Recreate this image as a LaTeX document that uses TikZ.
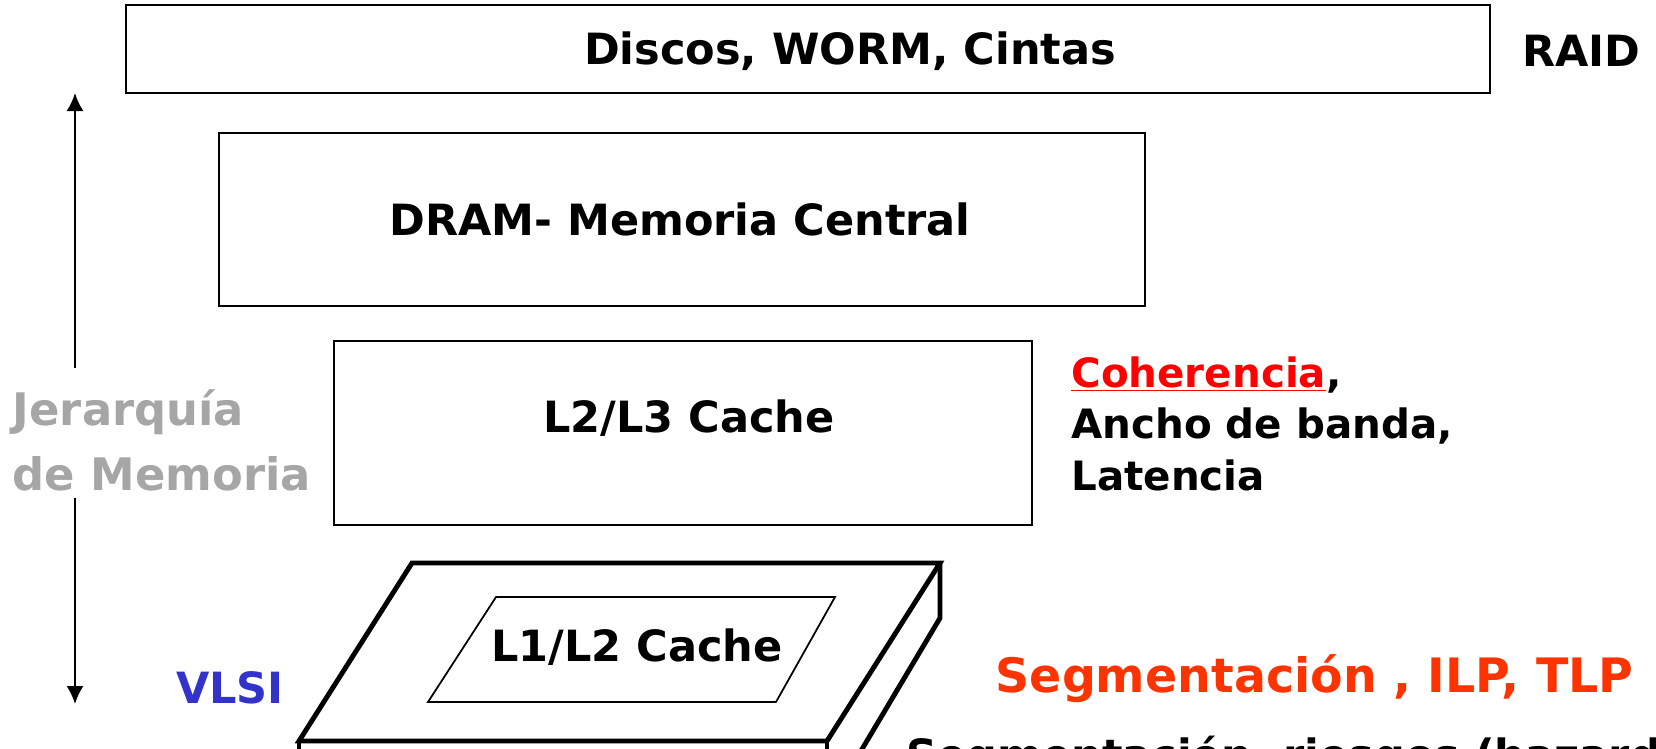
\documentclass[tikz,border=0pt]{standalone}
\usepackage{fontspec}
\setmainfont{DejaVu Sans}
\usetikzlibrary{arrows.meta}
\definecolor{grisjer}{HTML}{A6A6A6}
\definecolor{azulvlsi}{HTML}{3333CC}
\definecolor{rojocoh}{HTML}{FF0000}
\definecolor{naranjaseg}{HTML}{FF3300}

\begin{document}
\begin{tikzpicture}[x=0.02cm, y=-0.02cm,
    caja/.style={draw=black, line width=1.2pt, inner sep=0pt},
    rotulo/.style={font=\bfseries\fontsize{24.5}{36}\selectfont, inner sep=0pt},
    losa/.style={line width=2.8pt, line join=miter},
    flecha/.style={line width=1.2pt, -{Latex[length=0.36cm, width=0.34cm]}}]

    \clip (0,0) rectangle (1656,748);

    % niveles de la jerarquia
    \node[caja, minimum width=27.28cm, minimum height=1.76cm] (discos) at (808,49) {};
    \node[caja, minimum width=18.52cm, minimum height=3.46cm] (dram) at (682,219.5) {};
    \node[caja, minimum width=13.96cm, minimum height=3.68cm] (l2l3) at (683,433) {};

    \node[rotulo] (discostxt) at (850,51) {Discos, WORM, Cintas};
    \node[rotulo, anchor=east] (raid) at (1641,51) {RAID};
    \node[rotulo] (dramtxt) at (680,219) {DRAM- Memoria Central};
    \node[rotulo] (l2l3txt) at (689,418) {L2/L3 Cache};

    \node[rotulo, font=\bfseries\fontsize{23}{29.5}\selectfont, anchor=north west, align=left] (coher) at (1071,356)
        {\textcolor{rojocoh}{\underline{Coherencia}},\\Ancho de banda,\\Latencia};

    % chip
    \draw[losa] (412,563) -- (940,563) -- (827,741) -- (299,741) -- cycle;
    \draw[losa] (940,563) -- (940,618) -- (852,766);
    \draw[losa] (299,741) -- (299,770);
    \draw[losa] (827,741) -- (827,770);
    \draw[line width=1pt] (496,597) -- (835,597) -- (776,702) -- (428,702) -- cycle;
    \node[rotulo] (l1l2) at (637,647) {L1/L2 Cache};

    % eje vertical
    \node[rotulo, font=\bfseries\fontsize{25.5}{37}\selectfont, text=grisjer, align=left] (jerar) at (162,440) {Jerarquía\\de Memoria};
    \coordinate (ejearriba) at (75,93);
    \coordinate (ejeabajo) at (75,704);
    \draw[flecha] (75,368) -- (ejearriba);
    \draw[flecha] (75,498) -- (ejeabajo);

    \node[rotulo, text=azulvlsi] (vlsi) at (230,688) {VLSI};
    \node[rotulo, font=\bfseries\fontsize{27}{36}\selectfont, text=naranjaseg, anchor=east] (seg) at (1634,679) {Segmentación , ILP, TLP};
    \node[rotulo, anchor=west] (riesgos) at (906,758) {Segmentación, riesgos (hazards)};

\end{tikzpicture}
\end{document}
